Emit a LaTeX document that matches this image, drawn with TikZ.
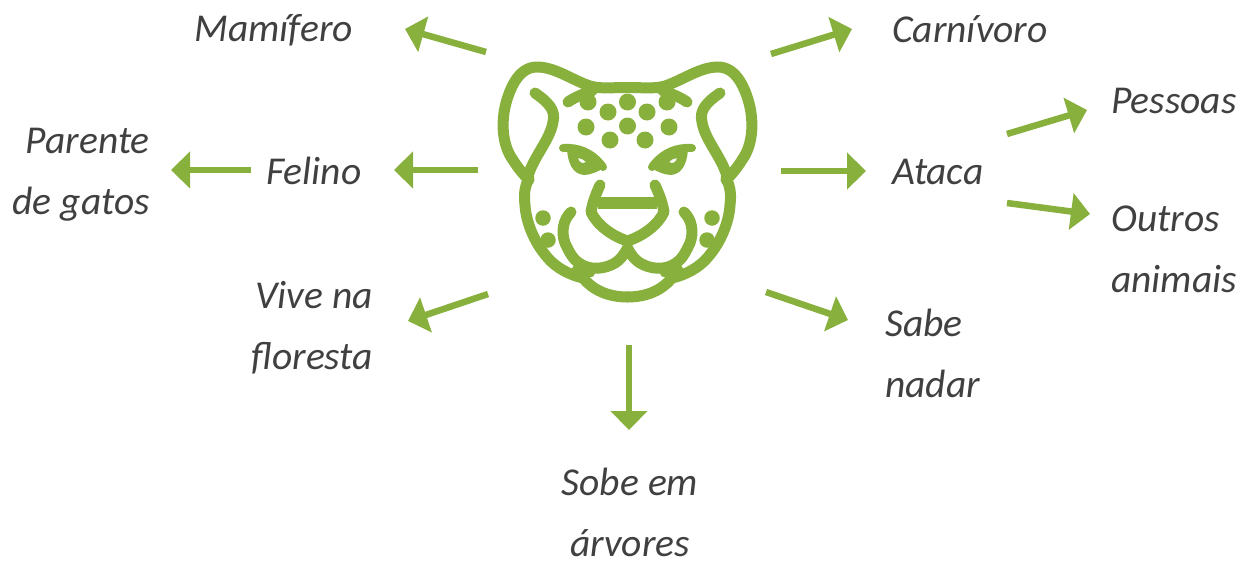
\documentclass[tikz,border=0pt]{standalone}
\usepackage{fontspec}
\setmainfont{Carlito}
\usetikzlibrary{arrows.meta}
\definecolor{leaf}{HTML}{88B03D}
\definecolor{ink}{HTML}{404040}
\tikzset{
  lbl/.style={text=ink,inner sep=0pt,font=\fontsize{39.5}{61}\selectfont\itshape},
  arr/.style={draw=leaf,line width=6.5pt,-{Triangle[length=19pt,width=36pt]}},
  fur/.style={draw=leaf,line width=11pt,line cap=round,line join=round},
  spot/.style={fill=leaf,draw=none,circle,minimum size=17pt,inner sep=0pt}
}
\begin{document}
\begin{tikzpicture}[x=1pt,y=-1pt]
\useasboundingbox (0,0) rectangle (1243,560);
% labels
\node[lbl,anchor=east] (mam) at (353,30) {Mamífero};
\node[lbl,anchor=west] (car) at (892,29) {Carnívoro};
\node[lbl,anchor=east,align=right] (par) at (150,175) {Parente\\de gatos};
\node[lbl,anchor=center] (fel) at (314,171) {Felino};
\node[lbl,anchor=west] (ata) at (892,172) {Ataca};
\node[lbl,anchor=west] (pes) at (1111,101) {Pessoas};
\node[lbl,anchor=west,align=left] (out) at (1111,249) {Outros\\animais};
\node[lbl,anchor=east,align=right] (viv) at (373,328) {Vive na\\floresta};
\node[lbl,anchor=west,align=left] (sab) at (885,353) {Sabe\\nadar};
\node[lbl,anchor=center,align=center] (sob) at (630,512) {Sobe em\\árvores};
% connector ends
\coordinate (t1) at (486,52);  \coordinate (h1) at (405,29);
\coordinate (t2) at (771,54);  \coordinate (h2) at (852,29);
\coordinate (t3) at (478,170); \coordinate (h3) at (394,170);
\coordinate (t4) at (251,170); \coordinate (h4) at (171,170);
\coordinate (t5) at (781,171); \coordinate (h5) at (866,171);
\coordinate (t6) at (1007,134);\coordinate (h6) at (1087,110);
\coordinate (t7) at (1007,203);\coordinate (h7) at (1090,214);
\coordinate (t8) at (488,294); \coordinate (h8) at (408,321);
\coordinate (t9) at (766,292); \coordinate (h9) at (848,320);
\coordinate (t10) at (629,345);\coordinate (h10) at (629,430);
\foreach \i in {1,...,10} \draw[arr] (t\i) -- (h\i);
% head: right half is the mirror of the left half
\foreach \m in {1,-1}{
\begin{scope}[shift={(627.5,0)},xscale=\m,shift={(-627.5,0)}]
  % top and ear
  \draw[fur] (627.5,87.5) .. controls (612,87.5) and (600,89) .. (590,86)
     .. controls (572,80) and (555,67) .. (537,67)
     .. controls (520,67) and (511,85) .. (506,103)
     .. controls (501,122) and (502,145) .. (513,160)
     .. controls (518,168) and (523,174) .. (529,180);
  % cheek and chin
  \draw[fur] (529,178) .. controls (524,188) and (524,196) .. (525,205)
     .. controls (526,222) and (534,242) .. (547,257)
     .. controls (556,268) and (570,275) .. (583,278)
     .. controls (593,290) and (608,297) .. (627.5,297);
  % inner ear
  \draw[fur] (535,93) .. controls (548,102) and (556,110) .. (553,122)
     .. controls (550,140) and (534,156) .. (528,176);
  % brow
  \draw[fur] (568,102) .. controls (575,97) and (583,94) .. (592,91);
  % eye
  \draw[draw=leaf,line width=8pt,line cap=round,line join=round] (563,148) .. controls (578,147) and (592,152) .. (603,167);
  \fill[leaf,even odd rule] (567,150) .. controls (568,162) and (572,174) .. (584,175)
     .. controls (590,175) and (597,172) .. (604,168) -- (590,150) -- cycle
     (578,158) .. controls (581,158) and (584,160) .. (586,162) .. controls (583,164) and (579,163) .. (578,158) -- cycle;
  % nose
  \draw[fur] (600,185) .. controls (597,192) and (593,200) .. (591,212)
     .. controls (597,225) and (612,236) .. (627.5,241);
  \draw[draw=leaf,line width=12pt] (627.5,202.5) -- (598,202.5);
  % mouth
  \draw[fur] (571,212) .. controls (563,220) and (561,232) .. (565,243)
     .. controls (570,254) and (574,260) .. (579,263)
     .. controls (590,271) and (605,269) .. (615,263)
     .. controls (620,260) and (624,255) .. (627.5,248);
  \draw[fur] (577,270) -- (590,272);
  % spots
  \node[spot] (sa\ifnum\m=1 l\else r\fi) at (588,102) {};
  \node[spot] (sb\ifnum\m=1 l\else r\fi) at (608,112) {};
  \node[spot] (sc\ifnum\m=1 l\else r\fi) at (586,127) {};
  \node[spot] (sd\ifnum\m=1 l\else r\fi) at (610,140) {};
  \node[spot,minimum size=15.5pt] (se\ifnum\m=1 l\else r\fi) at (543,218) {};
  \node[spot,minimum size=15.5pt] (sf\ifnum\m=1 l\else r\fi) at (548,240) {};
\end{scope}}
\node[spot] (s1) at (627.5,102) {};
\node[spot] (s2) at (627.5,126) {};
\end{tikzpicture}
\end{document}
